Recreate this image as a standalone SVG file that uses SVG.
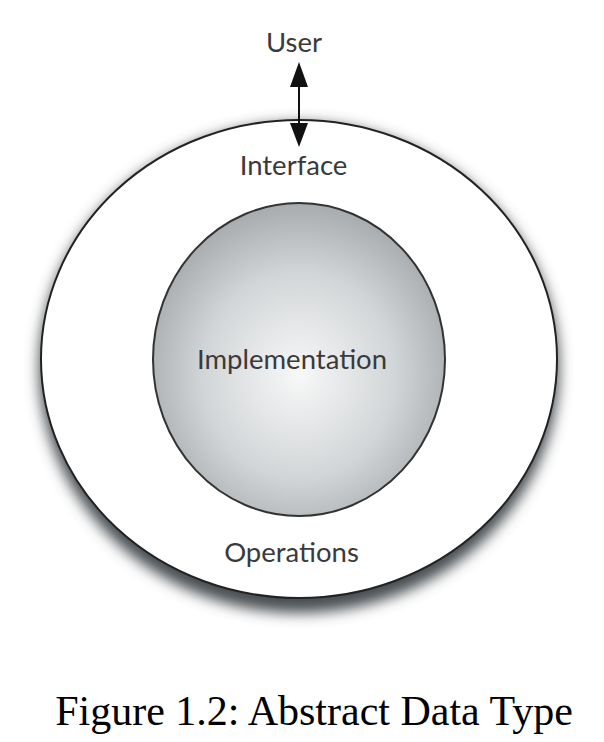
<svg xmlns="http://www.w3.org/2000/svg" width="604" height="742" viewBox="0 0 604 742">
<style>
.lbl{font-family:Lato,"Open Sans",sans-serif;font-size:27.5px;fill:#3a3a3a;text-anchor:middle}
.cap{font-family:"Liberation Serif",serif;font-size:42px;fill:#000;text-anchor:middle}
.edge{stroke:#111;stroke-width:2;fill:none}
</style>
<defs>
<radialGradient id="g" cx="0.5" cy="0.55" r="0.55">
<stop offset="0" stop-color="#f7f8f8"/>
<stop offset="0.6" stop-color="#d2d5d7"/>
<stop offset="1" stop-color="#a7abae"/>
</radialGradient>
<filter id="sh" x="-20%" y="-20%" width="140%" height="140%">
<feGaussianBlur stdDeviation="7"/>
</filter>
</defs>
<rect width="604" height="742" fill="#fff"/>
<g id="outer">
<ellipse cx="299" cy="368" rx="260" ry="245" fill="#4a4f52" filter="url(#sh)"/>
<ellipse cx="299" cy="359" rx="258" ry="239" fill="#fff" stroke="#222" stroke-width="2"/>
<text class="lbl" x="293.5" y="175">Interface</text>
<text class="lbl" x="291.5" y="562">Operations</text>
</g>
<g id="inner">
<ellipse cx="299" cy="359.5" rx="146" ry="156.5" fill="url(#g)" stroke="#333" stroke-width="2"/>
<text class="lbl" x="292" y="369">Implementation</text>
</g>
<g id="user">
<text class="lbl" x="294" y="52">User</text>
</g>
<g id="connectors">
<line x1="299" y1="86" x2="299" y2="124" class="edge"/>
<path d="M299,62 L290,87 L308,87 z" fill="#111"/>
<path d="M299,147 L290,123 L308,123 z" fill="#111"/>
</g>
<text class="cap" x="314" y="725">Figure 1.2: Abstract Data Type</text>
</svg>
